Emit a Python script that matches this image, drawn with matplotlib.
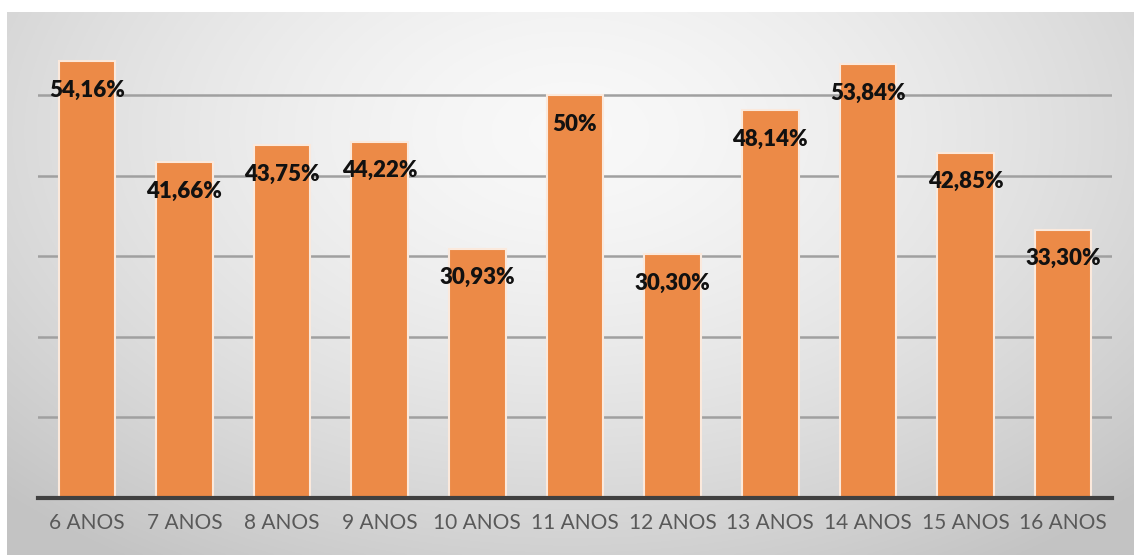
import numpy as np
import matplotlib
matplotlib.use("Agg")
import matplotlib.pyplot as plt

# dados do gráfico
idades = ["6 ANOS", "7 ANOS", "8 ANOS", "9 ANOS", "10 ANOS", "11 ANOS",
          "12 ANOS", "13 ANOS", "14 ANOS", "15 ANOS", "16 ANOS"]
valores = [54.16, 41.66, 43.75, 44.22, 30.93, 50.0, 30.30, 48.14, 53.84, 42.85, 33.30]
rotulos = ["54,16%", "41,66%", "43,75%", "44,22%", "30,93%", "50%",
           "30,30%", "48,14%", "53,84%", "42,85%", "33,30%"]

W, H = 1134, 555
fig = plt.figure(figsize=(W / 100, H / 100), dpi=100, facecolor="white")

# fundo com gradiente radial (estilo Excel)
bg = fig.add_axes([7 / W, 0, 1 - 7 / W, 1 - 12 / H])
yy, xx = np.mgrid[0:1:300j, 0:1:600j]
r = np.sqrt(((xx - 0.5) / 0.72) ** 2 + ((yy - 0.22) / 0.95) ** 2)
r = np.clip(r, 0, 1)
g = 0.975 - 0.21 * r ** 1.5
bg.imshow(np.dstack([g, g, g]), aspect="auto", extent=[0, 1, 1, 0])
bg.axis("off")

ax = fig.add_axes([38 / W, 57 / H, (1112 - 38) / W, 56 * 8.06 / H])
ax.patch.set_alpha(0)
x = np.arange(len(idades))
ax.bar(x, valores, width=0.58, color="#EC8A47", edgecolor="#FBE9DC",
       linewidth=1.5, zorder=3)

for xi, v, t in zip(x, valores, rotulos):
    ax.annotate(t, (xi, v), xytext=(0, -21), textcoords="offset points",
                ha="center", va="center", fontsize=16, fontweight="heavy",
                family=["Lato", "DejaVu Sans"], color="#111111", zorder=5)

ax.set_xlim(-0.5, len(idades) - 0.5)
ax.set_ylim(0, 56)
ax.set_yticks([10, 20, 30, 40, 50])
ax.yaxis.grid(True, color="#a0a0a0", linewidth=1.8, zorder=1)
ax.tick_params(axis="y", left=False, labelleft=False)
ax.set_xticks(x)
ax.set_xticklabels(idades, fontsize=15, color="#595959",
                   family=["Lato", "DejaVu Sans"])
ax.tick_params(axis="x", length=0, pad=11)
for s in ["top", "right", "left"]:
    ax.spines[s].set_visible(False)
ax.spines["bottom"].set_color("#404040")
ax.spines["bottom"].set_linewidth(3)
ax.spines["bottom"].set_zorder(4)

fig.savefig("out.png", dpi=100)
